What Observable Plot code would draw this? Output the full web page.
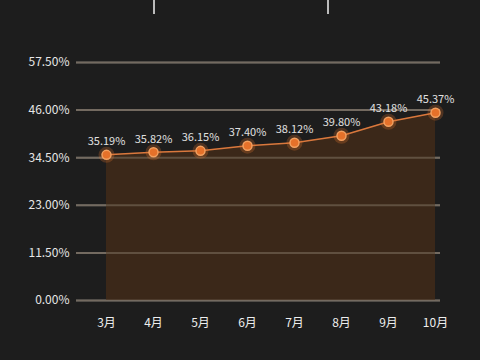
<!DOCTYPE html>
<html><head><meta charset="utf-8">
<script src="https://cdn.jsdelivr.net/npm/d3@7"></script>
<script src="https://cdn.jsdelivr.net/npm/@observablehq/plot@0.6"></script>
<style>
html,body{margin:0;padding:0;background:#1d1d1d;width:480px;height:360px;overflow:hidden;}
#wrap{position:relative;width:480px;height:360px;}
#box{position:absolute;left:153px;top:0;width:172px;height:14px;border-left:2px solid #bbb;border-right:2px solid #bbb;}
#chart{position:absolute;left:0;top:0;}
</style></head>
<body><div id="wrap"><div id="box"></div><div id="chart"></div></div>
<script>
const months = ["3月","4月","5月","6月","7月","8月","9月","10月"];
const rates = [35.19, 35.82, 36.15, 37.40, 38.12, 39.80, 43.18, 45.37];
const yTicks = [0, 11.5, 23, 34.5, 46, 57.5];

const data = months.map((m, i) => ({month: m, rate: rates[i]}));
const fontFam = "'Noto Sans CJK SC', 'Open Sans', sans-serif";

const chart = Plot.plot({
  width: 480,
  height: 360,
  marginLeft: 76,
  marginRight: 40,
  marginTop: 62,
  marginBottom: 60,
  style: {background: "transparent", fontFamily: fontFam, fontSize: "12px", color: "#e6e6e6"},
  x: {type: "point", domain: months, range: [103, 437], padding: 0, label: null},
  y: {domain: [0, 57.5], label: null},
  marks: [
    Plot.ruleY(yTicks, {stroke: "#6a6a6a", strokeWidth: 2}),
    Plot.areaY(data, {x: "month", y: "rate", fill: "#3b2819", fillOpacity: 1}),
    Plot.ruleY(yTicks, {stroke: "#7a6a5a", strokeWidth: 2, strokeOpacity: 0.6}),
    Plot.lineY(data, {x: "month", y: "rate", stroke: "#d9783d", strokeWidth: 1.5}),
    Plot.dot(data, {x: "month", y: "rate", r: 8, fill: "#e8782e", fillOpacity: 0.25, stroke: null}),
    Plot.dot(data, {x: "month", y: "rate", r: 4.5, fill: "#e5712a", stroke: "#f2a060", strokeWidth: 1.5}),
    Plot.text(data, {x: "month", y: "rate", text: d => d.rate.toFixed(2) + "%", dy: -13, fill: "#e0e0e0", fontSize: 11}),
    Plot.axisY({ticks: yTicks, tickFormat: d => d.toFixed(2) + "%", tickSize: 0, tickPadding: 7, fontSize: 12, fill: "#e6e6e6", label: null}),
    Plot.axisX({tickSize: 0, tickPadding: 18, fontSize: 12, fill: "#eeeeee", label: null})
  ]
});
document.getElementById("chart").appendChild(chart);
</script>
</body></html>
